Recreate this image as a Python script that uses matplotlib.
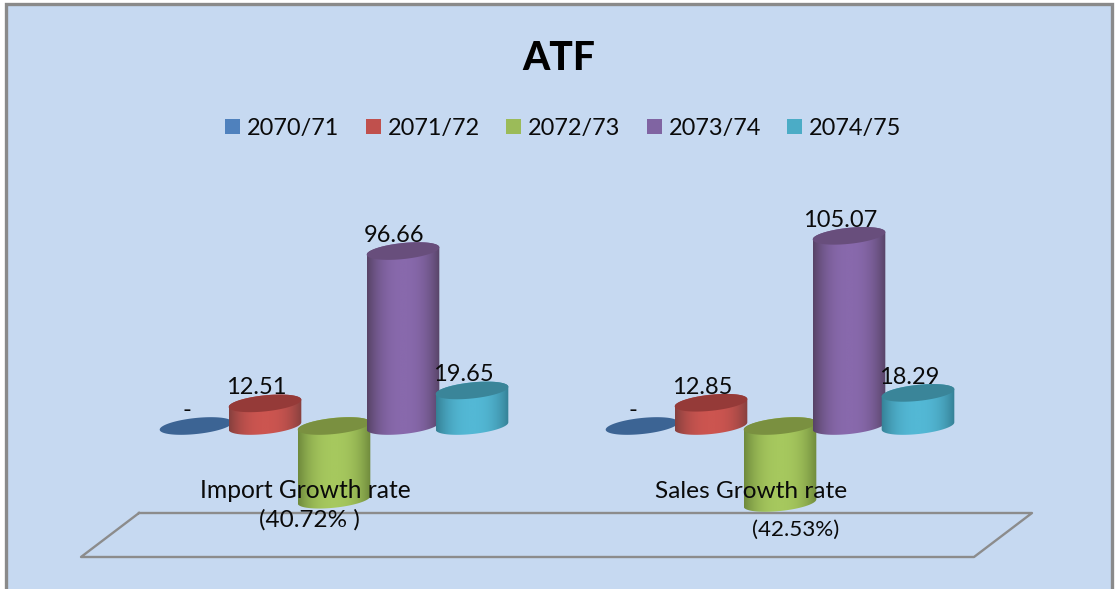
import numpy as np
import matplotlib
matplotlib.use("Agg")
import matplotlib.pyplot as plt
from matplotlib.colors import LinearSegmentedColormap
from matplotlib.patches import Polygon, Patch

title = "ATF"
years = ["2070/71", "2071/72", "2072/73", "2073/74", "2074/75"]
import_growth = [0, 12.51, -40.72, 96.66, 19.65]
sales_growth = [0, 12.85, -42.53, 105.07, 18.29]
import_labels = ["-", "12.51", None, "96.66", "19.65"]
sales_labels = ["-", "12.85", None, "105.07", "18.29"]
colors = ["#4F81BD", "#C0504D", "#9BBB59", "#8064A2", "#4BACC6"]
top_colors = ["#3C6494", "#953A38", "#7A9040", "#684E7C", "#3A8599"]
mid_colors = ["#4F81BD", "#CC5550", "#A6C85E", "#8869AC", "#53B8D5"]
edge_colors = ["#3C6494", "#86403E", "#6F8A3C", "#574366", "#358095"]

plt.rcParams["font.family"] = ["Lato", "DejaVu Sans"]
W, H = 1117, 589
BG = "#C6D9F1"
fig = plt.figure(figsize=(W / 100, H / 100), dpi=100, facecolor="white")
ax = fig.add_axes([0, 0, 1, 1])
ax.axis("off")

# axis scales: 446 px per category, 1.81 px per percentage point
PX_X, PX_Y = 446.0, 1.81
X0_PX, Y0_PX = 334.0, 426.0
xlim = (-X0_PX / PX_X, (W - X0_PX) / PX_X)
ylim = ((Y0_PX - H) / PX_Y, Y0_PX / PX_Y)
ax.set_xlim(*xlim)
ax.set_ylim(*ylim)

STEP, A, B = 69 / PX_X, 36.5, 8.0
TILT = np.radians(6)
SHADE = 1 - np.abs(np.linspace(-1, 1, 96)) ** 2.4


def ell(x, y, t):
    ex = A * np.cos(t) * np.cos(TILT) - B * np.sin(t) * np.sin(TILT)
    ey = A * np.cos(t) * np.sin(TILT) + B * np.sin(t) * np.cos(TILT)
    return x + ex / PX_X, y + ey / PX_Y


t_right = np.arctan2(-B * np.sin(TILT), A * np.cos(TILT))
upper = np.linspace(t_right, t_right + np.pi, 60)
lower = np.linspace(t_right + np.pi, t_right + 2 * np.pi, 60)
full = np.linspace(0, 2 * np.pi, 120)


def cylinder(x, v, i, z):
    hi, lo = max(v, 0), min(v, 0)
    if v != 0:
        ux, uy = ell(x, hi, upper)
        lx, ly = ell(x, lo, lower)
        poly = Polygon(np.c_[np.r_[ux, lx], np.r_[uy, ly]], closed=True,
                       transform=ax.transData, fc="none", ec="none")
        ax.add_patch(poly)
        cmap = LinearSegmentedColormap.from_list("c", [edge_colors[i], mid_colors[i]])
        w = A / PX_X
        im = ax.imshow(SHADE[None, :], cmap=cmap, aspect="auto",
                       extent=(x - w, x + w, lo - 12, hi + 12),
                       interpolation="bilinear", zorder=z)
        im.set_clip_path(poly)
    ex, ey = ell(x, hi if v > 0 else 0, full)
    ax.fill(ex, ey, color=top_colors[i], lw=0, zorder=z + 0.1)


def to_x(px):
    return (np.asarray(px, dtype=float) - X0_PX) / PX_X


def to_y(py):
    return (Y0_PX - np.asarray(py, dtype=float)) / PX_Y


# chart panel (its lower edge lies outside the picture)
ax.fill(to_x([5.5, 1111.5, 1111.5, 5.5]), to_y([4, 4, 610, 610]), fc=BG, ec="#8A8A8A", lw=2.4, zorder=0)

# floor plane
ax.plot(to_x([139, 1032, 974, 81, 139]), to_y([513, 513, 557, 557, 513]), color="#8C8C8C", lw=1.7, zorder=1)

for g, (vals, labs) in enumerate([(import_growth, import_labels), (sales_growth, sales_labels)]):
    for i, (v, lab) in enumerate(zip(vals, labs)):
        x = g + (i - 2) * STEP
        cylinder(x, v, i, 2 + i)
        if lab is not None:
            ax.annotate(lab, (x, max(v, 0)), xytext=(-6.4, 11.3), textcoords="offset points",
                        ha="center", va="center", fontsize=17, color="#0A0A0A", zorder=10)

ax.set_xlim(*xlim)
ax.set_ylim(*ylim)

ax.text(to_x(305), to_y(491), "Import Growth rate", ha="center", va="center", fontsize=17.7, color="#0A0A0A", zorder=11)
ax.text(to_x(309.5), to_y(520), "(40.72% )", ha="center", va="center", fontsize=17.5, color="#0A0A0A", zorder=11)
ax.text(to_x(751), to_y(491), "Sales Growth rate", ha="center", va="center", fontsize=17.6, color="#0A0A0A", zorder=11)
ax.text(to_x(796), to_y(530), "(42.53%)", ha="center", va="center", fontsize=16.1, color="#0A0A0A", zorder=11)

ax.text(to_x(559), to_y(58), title, ha="center", va="center", fontsize=28, fontweight="black", color="black")

F = 16.9
handles = [Patch(fc=c, ec="none") for c in colors]
ax.legend(handles, years, ncol=5, loc="center", bbox_to_anchor=(563.5 / W, 1 - 128.5 / H),
          bbox_transform=fig.transFigure, frameon=False, fontsize=F, labelcolor="#0A0A0A",
          handlelength=10.8 / F, handleheight=10.8 / F, handletextpad=5 / F, columnspacing=18.9 / F,
          borderpad=0)

fig.savefig("out.png", dpi=100, facecolor="white")
